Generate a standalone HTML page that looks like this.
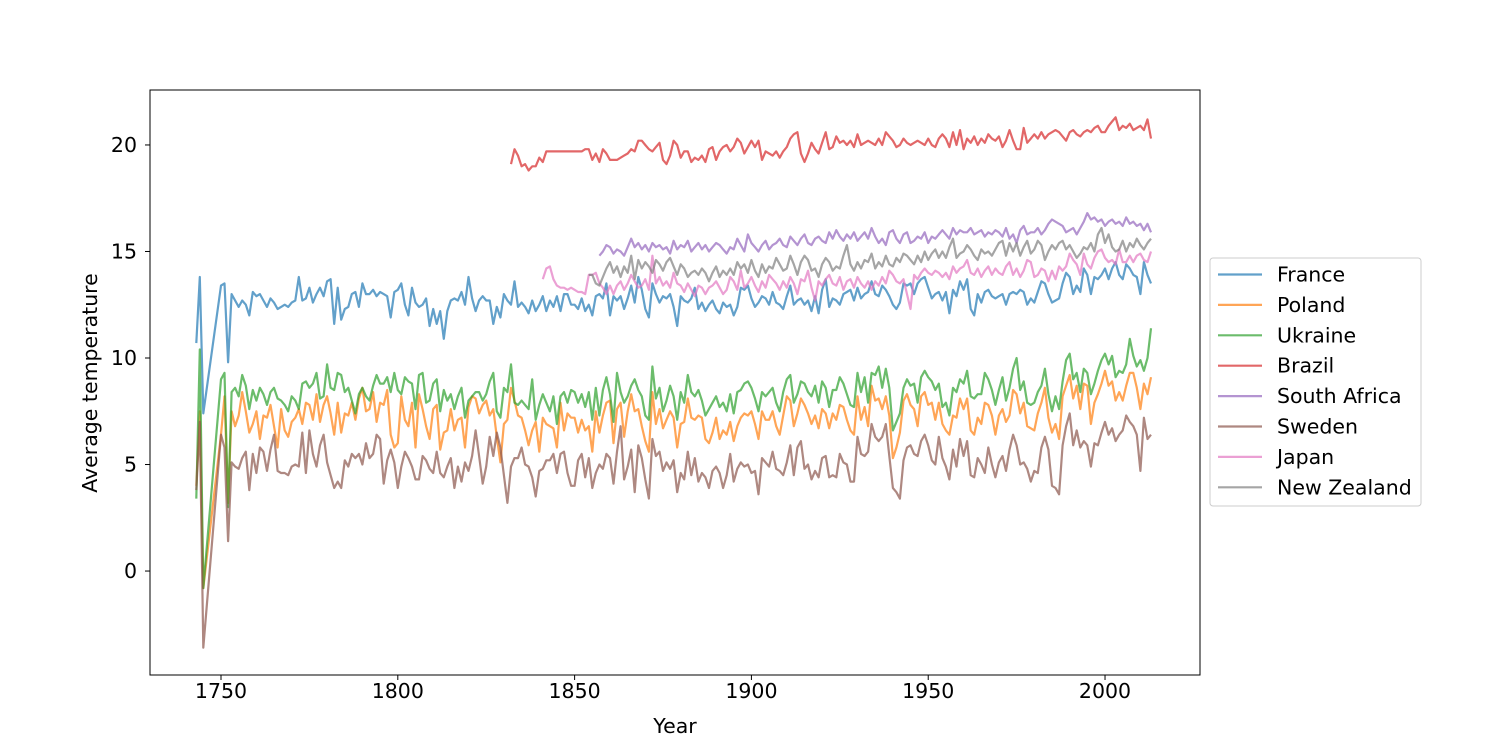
<!DOCTYPE html>
<html><head><meta charset="utf-8"><style>
body{margin:0;background:#fff}
svg text{font-family:"DejaVu Sans","Liberation Sans",sans-serif;font-size:20.5px;fill:#000}
</style></head><body>
<svg id="chart" width="1500" height="750" xmlns="http://www.w3.org/2000/svg">
<rect width="1500" height="750" fill="#fff"/>
<g id="plot"></g>
<rect x="150" y="90" width="1050" height="585" fill="none" stroke="#000" stroke-width="1"/>
<g id="xt"></g>
<g id="yt"></g>
<text x="675" y="733" text-anchor="middle">Year</text>
<text transform="translate(97,383) rotate(-90)" text-anchor="middle">Average temperature</text>
<g id="legend"></g>
</svg>
<script>
const seriesNames=["France","Poland","Ukraine","Brazil","South Africa","Sweden","Japan","New Zealand"];
const xTicks=[1750,1800,1850,1900,1950,2000];
const yTicks=[0,5,10,15,20];
const franceVals=[10.7,13.8,7.4,
13.4,13.5,9.8,13.0,12.7,12.4,12.7,12.5,12.0,13.1,12.9,13.0,12.7,12.4,12.8,12.6,12.3,12.4,12.5,12.4,
12.6,12.7,13.8,12.7,12.8,13.3,12.6,13.0,13.3,12.9,13.6,13.7,11.6,13.3,11.8,12.3,12.4,13.0,13.1,12.4,
13.5,13.0,13.0,13.2,12.9,13.1,13.0,12.9,11.9,13.1,13.2,13.5,12.5,12.0,13.3,12.6,12.4,12.5,12.8,11.5,
12.3,11.6,12.2,10.9,12.2,12.7,12.8,12.7,13.1,12.5,13.8,12.8,12.2,12.7,12.9,12.7,12.7,11.6,12.4,11.9,
13.0,12.7,12.5,13.6,12.4,12.6,12.4,12.1,12.7,12.2,12.5,12.9,12.2,12.7,12.4,12.9,12.2,13.0,13.0,12.5,
12.5,12.3,12.8,12.2,12.5,12.0,12.9,13.0,12.8,13.5,12.0,12.9,12.7,12.9,12.3,12.8,13.4,12.6,13.8,13.2,
12.3,11.9,13.5,13.0,12.6,12.9,12.8,13.0,12.4,11.5,12.9,12.7,12.6,12.8,13.3,12.3,12.6,12.2,12.5,12.7,
12.3,12.1,12.6,12.4,12.5,12.0,12.4,13.3,13.2,13.4,12.8,12.4,12.6,12.9,12.8,12.5,13.1,12.6,12.5,12.3,
12.9,13.4,12.5,12.7,12.8,12.5,12.7,12.2,12.9,12.1,13.2,13.7,12.4,12.8,12.7,12.5,13.0,13.1,13.2,12.7,
13.3,12.8,13.0,13.1,13.6,13.0,12.9,13.4,13.2,12.9,12.5,12.3,12.6,13.5,13.4,13.5,13.0,13.5,13.7,13.8,
13.3,12.8,13.0,13.1,12.7,13.1,12.1,13.2,12.9,13.6,13.2,13.7,12.3,12.0,13.0,12.6,13.1,13.2,12.9,12.8,
12.9,13.0,12.5,13.0,13.1,13.0,13.2,13.1,12.5,12.8,12.6,13.1,13.6,13.5,13.0,12.6,12.7,12.8,13.5,14.0,
13.8,13.0,13.4,13.1,14.2,13.9,13.0,13.8,13.7,13.9,14.2,13.7,14.2,14.5,13.9,13.7,14.4,14.2,13.9,13.8,
13.0,14.5,13.9,13.5];
const polandVals=[4.0,7.5,-0.8,
6.4,8.2,3.2,7.5,6.8,7.3,8.4,7.5,6.5,6.9,7.5,6.2,7.3,7.2,7.8,6.8,5.8,7.6,6.6,6.3,
7.0,7.2,7.6,6.9,7.9,7.8,7.1,8.3,7.0,7.8,8.2,7.4,6.4,7.9,6.5,7.4,7.3,7.9,7.1,8.1,
8.6,7.5,7.6,8.4,7.0,7.9,7.8,8.5,6.4,5.8,6.0,8.2,7.1,6.8,7.9,5.8,8.3,7.6,6.8,6.2,
7.6,7.8,5.7,6.5,6.6,7.6,6.6,7.1,7.2,5.8,7.7,8.2,8.1,7.4,7.8,8.0,7.3,7.6,6.3,5.1,
6.9,7.1,8.6,8.0,7.3,7.2,6.6,5.9,6.6,7.0,5.6,7.2,6.9,6.8,6.7,5.8,7.9,6.6,7.4,7.2,
7.2,6.5,7.1,6.6,6.8,5.6,7.5,6.5,7.3,7.9,8.0,6.0,7.6,7.9,6.3,7.5,8.3,7.5,7.6,6.8,
6.1,5.6,8.4,6.9,7.6,6.7,7.1,7.5,7.2,5.8,6.9,7.0,8.1,7.2,7.1,7.3,7.2,6.2,6.0,6.5,
7.2,6.2,6.6,6.4,7.0,6.1,6.8,7.2,7.4,7.3,7.5,6.9,6.2,7.5,7.1,7.1,7.5,6.8,6.4,7.3,
8.2,8.0,6.8,7.4,8.1,7.8,7.4,6.9,7.3,6.7,7.6,7.4,6.7,7.4,7.1,7.8,7.7,7.1,6.6,6.4,
8.2,7.1,7.7,6.8,8.7,8.0,8.1,7.6,8.2,7.3,5.3,5.8,6.5,8.0,8.3,7.8,7.6,6.8,8.2,8.4,
7.8,7.9,7.1,7.9,6.9,6.6,6.4,7.3,7.2,8.1,7.6,8.1,6.6,6.4,7.2,6.9,7.9,7.8,7.3,6.4,
7.3,7.6,7.0,7.3,8.5,8.3,7.4,7.9,6.8,6.7,6.6,7.4,7.9,8.6,7.2,6.5,6.9,6.2,8.2,8.7,
9.2,8.1,8.7,7.6,8.8,8.7,6.9,7.9,8.3,8.8,9.4,8.7,8.9,8.0,8.4,8.0,8.7,9.3,9.3,8.6,
7.6,8.8,8.3,9.1];
const ukraineVals=[3.4,10.4,-0.8,
9.0,9.3,3.0,8.4,8.6,8.2,9.2,8.7,7.6,8.5,8.0,8.6,8.3,7.8,8.4,8.6,8.1,8.0,7.8,7.5,
8.2,8.0,7.6,8.8,8.9,8.6,8.8,9.3,8.1,8.2,9.7,8.6,8.5,9.3,9.2,8.4,8.6,8.0,7.4,8.3,
8.6,8.2,8.0,8.7,9.2,8.8,8.8,9.1,8.4,9.3,8.5,8.3,9.1,8.9,8.8,7.6,9.2,9.3,7.9,8.0,
8.8,9.0,7.5,8.5,8.0,8.3,7.6,8.2,8.6,7.2,8.0,8.2,8.4,8.4,8.0,8.3,8.9,9.3,7.5,7.2,
8.6,8.4,9.7,7.9,7.8,8.0,7.8,7.6,9.0,7.1,7.8,8.3,7.9,7.5,8.2,6.9,8.2,8.4,7.9,8.5,
8.4,7.9,8.3,7.7,8.4,7.1,8.6,7.3,8.5,9.1,8.3,7.0,9.3,8.4,7.9,8.2,8.7,9.0,8.5,8.2,
7.3,7.1,9.6,8.1,8.6,7.5,8.0,8.7,8.2,7.1,8.4,7.9,9.2,8.4,8.2,8.5,8.0,7.3,7.6,7.9,
8.2,7.7,7.9,7.5,8.3,7.4,8.4,8.5,8.8,8.9,8.6,8.1,7.5,8.4,8.2,8.4,8.6,7.9,7.5,8.4,
9.0,9.2,7.9,8.3,8.9,8.8,8.4,8.2,8.7,7.9,8.9,8.6,7.7,8.5,8.5,9.1,8.8,8.3,7.8,7.7,
9.3,8.4,9.1,7.9,9.3,9.2,9.6,8.6,9.5,8.6,6.6,7.0,7.4,8.6,9.0,8.7,8.8,7.9,9.1,9.4,
9.1,8.9,8.5,8.8,7.7,7.9,7.3,8.6,8.4,9.0,8.8,9.4,8.2,8.1,8.3,8.3,9.3,9.0,8.5,7.8,
8.5,9.1,8.0,8.6,9.5,10.0,8.5,8.9,7.9,7.8,7.9,8.4,8.7,9.5,8.3,7.5,8.2,7.6,8.9,9.9,
10.2,9.0,9.3,8.4,9.5,9.3,8.3,8.8,9.4,9.9,10.2,9.7,10.1,9.1,9.4,9.3,9.7,10.9,10.1,9.6,
9.9,9.4,10.0,11.4];
const brazilVals=[19.1,19.8,19.5,19.0,19.1,18.8,19.0,19.0,19.4,19.2,
19.7,19.7,19.7,19.7,19.7,19.7,19.7,19.7,19.7,19.7,
19.7,19.8,19.8,19.3,19.6,19.2,19.8,19.6,19.3,19.3,
19.3,19.4,19.5,19.6,19.8,19.7,20.2,20.2,20.0,19.8,
19.7,19.9,20.1,19.3,19.1,19.5,20.2,20.0,19.4,19.7,
19.7,19.2,19.4,19.3,19.5,19.2,19.8,19.9,19.3,19.7,
19.9,20.0,19.7,19.9,20.3,20.1,19.6,19.9,20.2,19.9,
20.2,19.3,19.7,19.6,19.5,19.7,19.4,19.7,19.9,20.3,
20.5,20.6,19.6,19.2,19.6,20.1,19.8,19.6,20.1,20.6,
19.8,19.9,20.4,20.1,20.2,20.0,20.2,19.9,20.5,20.0,
20.1,20.2,20.1,20.0,20.3,20.0,20.6,20.4,20.2,19.9,
20.0,20.3,20.1,20.0,20.1,20.2,20.1,20.0,20.3,20.0,
19.9,20.3,20.5,20.3,19.9,20.6,20.0,20.7,19.8,20.3,
20.1,20.4,20.0,20.3,20.1,20.5,20.3,20.2,20.4,19.9,
20.2,20.7,20.2,19.8,19.8,20.8,20.1,20.3,20.5,20.3,
20.6,20.3,20.5,20.6,20.7,20.6,20.4,20.2,20.6,20.7,
20.5,20.4,20.6,20.7,20.6,20.8,20.9,20.6,20.6,20.9,
21.1,21.3,20.7,20.9,20.8,21.0,20.7,20.8,20.9,20.7,21.2,20.3];
const southAfricaVals=[14.8,15.0,15.3,15.2,14.9,15.1,15.0,14.8,15.2,15.6,
15.2,15.4,15.1,15.3,15.0,15.4,15.2,15.3,15.1,15.2,
14.9,15.5,15.1,15.3,15.2,15.5,15.0,15.2,15.4,15.1,
15.3,15.0,15.2,15.4,15.3,15.1,14.9,15.2,15.1,15.6,
15.3,15.0,15.8,15.4,15.2,15.0,15.3,15.5,15.1,15.3,
15.4,15.6,15.3,15.2,15.7,15.5,15.3,15.6,15.8,15.4,
15.3,15.6,15.7,15.5,15.4,15.9,15.6,16.0,15.7,15.5,
15.8,15.6,15.9,15.5,15.7,15.9,15.6,16.1,15.7,15.4,
15.6,15.3,15.9,16.0,15.6,15.4,15.8,15.9,15.4,15.5,
15.7,15.6,15.9,15.4,15.7,15.6,15.8,16.0,15.8,15.6,
16.1,15.8,16.0,15.9,15.9,16.1,15.8,15.9,16.0,15.7,
15.9,15.8,16.0,15.9,15.7,16.1,15.6,15.8,15.4,16.0,
16.2,15.8,15.9,15.9,16.1,15.8,16.0,16.3,16.5,16.4,
16.3,16.2,15.9,16.0,16.1,15.8,16.1,16.4,16.8,16.5,
16.6,16.4,16.5,16.2,16.4,16.5,16.3,16.4,16.2,16.6,
16.3,16.4,16.2,16.3,16.0,16.3,15.9];
const swedenVals=[3.8,7.0,-3.6,
6.4,5.8,1.4,5.1,4.9,4.8,5.3,5.6,3.8,5.5,4.6,5.8,5.6,4.7,5.7,6.4,4.7,4.6,4.6,4.5,
4.9,5.0,4.9,6.5,4.6,6.6,5.5,4.9,5.9,6.4,5.1,4.5,3.9,4.2,3.9,5.2,4.9,5.5,5.3,5.5,
5.0,6.0,5.3,5.5,6.4,6.2,4.1,5.2,5.7,5.1,3.9,4.9,5.6,5.3,4.9,4.3,4.3,5.4,5.2,4.8,
4.6,5.6,4.6,4.4,4.9,5.3,3.9,4.9,4.2,5.1,4.7,5.4,6.6,5.4,4.1,4.9,6.3,5.4,6.5,5.8,
4.5,3.2,4.9,5.3,5.3,5.8,5.0,4.9,4.4,3.5,4.7,4.8,5.2,5.2,5.5,4.6,5.5,5.6,4.6,4.0,
4.0,5.2,5.5,4.4,5.3,3.9,4.6,5.0,4.8,5.5,5.3,4.1,5.6,6.8,4.3,4.9,5.7,3.7,5.9,5.3,
4.3,3.4,6.2,5.4,5.6,4.7,5.1,4.8,5.2,3.7,4.6,4.3,5.6,4.5,5.3,4.2,4.6,4.4,3.9,4.7,
4.9,4.6,3.9,4.5,5.5,4.2,4.8,5.1,4.9,5.0,4.6,4.7,3.6,5.3,5.1,4.9,5.6,4.8,4.7,4.5,
5.1,5.9,4.5,5.8,6.1,4.8,5.0,4.3,4.7,4.4,5.3,5.4,4.4,4.5,4.4,5.5,5.1,5.0,4.2,4.2,
6.3,5.5,5.4,5.6,6.9,6.3,6.1,6.3,6.9,5.4,3.9,3.7,3.4,5.2,5.8,5.9,5.5,5.4,6.1,6.4,
5.9,5.2,5.0,6.3,5.3,4.9,4.3,5.7,4.9,6.2,5.4,6.1,4.5,4.4,5.3,5.0,4.6,5.8,5.0,4.4,
5.1,5.4,4.7,5.7,6.4,5.9,5.0,5.1,4.8,4.2,4.7,4.6,5.8,6.3,5.7,4.0,3.9,3.6,5.9,6.8,
7.4,5.9,6.6,5.8,6.1,5.9,4.9,6.0,5.9,6.5,7.0,6.4,6.7,6.1,6.4,6.6,7.3,7.0,6.8,6.4,
4.7,7.2,6.2,6.4];
const japanVals=[13.7,14.2,14.3,13.7,13.4,13.3,13.3,13.2,13.3,13.2,
13.1,13.1,13.0,13.9,13.9,14.0,13.5,13.3,13.0,13.4,
13.0,13.4,13.6,13.2,13.5,13.9,13.6,13.3,13.4,13.7,
13.2,14.8,13.5,13.8,13.4,13.6,13.3,14.0,13.5,13.4,
13.1,13.5,13.2,12.9,13.4,13.3,13.0,13.3,13.4,13.6,
13.3,13.0,13.2,13.8,13.6,13.2,14.1,13.3,13.5,13.8,
13.4,13.1,13.6,13.3,13.9,13.7,13.5,13.2,13.6,13.3,
13.8,13.5,13.0,13.7,13.6,14.1,13.3,12.7,13.6,13.4,
13.7,13.9,13.5,13.4,13.8,13.2,13.6,13.7,13.3,13.8,
13.5,13.3,13.6,13.2,13.6,13.4,13.8,13.5,14.1,13.9,
13.6,13.5,13.7,13.0,12.3,13.9,13.7,14.0,14.2,14.0,
13.9,14.1,14.0,13.8,14.0,13.7,14.3,14.0,14.2,14.3,
14.6,14.0,13.9,14.2,13.8,14.1,14.3,13.9,14.2,14.0,
13.9,14.3,14.5,13.9,14.2,13.8,14.1,14.6,14.5,13.8,
13.9,14.2,14.1,13.6,14.1,13.7,14.3,14.1,14.3,14.9,
14.6,14.4,13.9,14.9,14.4,14.2,14.7,15.0,15.1,14.7,
14.5,14.6,14.4,15.1,14.5,14.5,14.8,14.5,14.8,14.9,
14.6,14.5,15.0];
const newZealandVals=[13.9,13.9,13.5,13.4,13.8,14.2,14.5,14.0,14.3,13.8,
14.3,14.0,14.8,13.7,14.6,14.2,14.5,14.3,14.0,14.6,
14.4,14.1,14.5,14.7,14.3,13.9,14.4,14.2,13.8,14.0,
14.1,13.9,14.2,14.0,13.6,14.0,14.3,13.8,14.1,13.9,
14.2,13.9,14.5,14.2,14.4,14.0,14.6,14.1,13.8,14.4,
14.0,14.3,14.2,14.7,14.4,14.1,14.2,14.8,14.4,13.9,
14.5,14.8,14.6,14.1,14.2,13.8,14.4,14.7,14.5,14.1,
14.3,14.2,14.8,15.3,14.4,14.1,14.5,14.2,14.6,14.5,
14.9,14.2,14.5,14.3,14.8,14.4,14.3,14.7,14.5,14.9,
14.8,14.6,14.4,14.8,14.5,15.0,14.6,14.9,15.1,14.7,
15.0,14.7,15.2,15.6,14.7,14.9,15.0,15.3,15.1,14.8,
14.6,15.1,14.9,15.0,14.8,15.1,15.4,15.5,14.8,15.4,
15.0,15.4,14.8,15.2,15.5,14.9,15.1,15.5,15.3,14.6,
15.0,15.3,15.1,15.4,15.5,15.1,15.3,15.0,14.7,14.9,
15.2,15.1,15.4,15.0,15.8,16.1,15.4,15.8,15.2,15.0,
15.1,15.5,15.0,15.4,15.2,15.6,15.3,15.1,15.4,15.6];
const seriesStart=[1750,1750,1750,1832,1857,1750,1841,1854];
const colors=["#1f77b4","#ff7f0e","#2ca02c","#d62728","#9467bd","#8c564b","#e377c2","#7f7f7f"];
const allVals=[franceVals,polandVals,ukraineVals,brazilVals,southAfricaVals,swedenVals,japanVals,newZealandVals];
const earlyYears=[1743,1744,1745];

const X0=150,X1=1200,Y0=90,Y1=675,xmin=1729.92,xmax=2026.86,ymin=-4.88,ymax=22.58;
const xs=v=>X0+(v-xmin)/(xmax-xmin)*(X1-X0);
const ys=v=>Y1-(v-ymin)/(ymax-ymin)*(Y1-Y0);
const NS="http://www.w3.org/2000/svg";
function mk(tag,attrs,parent){const e=document.createElementNS(NS,tag);for(const k in attrs)e.setAttribute(k,attrs[k]);parent.appendChild(e);return e;}

const plot=document.getElementById('plot');
allVals.forEach((vals,i)=>{
  const early=seriesStart[i]===1750;
  const pts=vals.map((v,j)=>{
    let yr;
    if(early){yr=j<3?earlyYears[j]:1750+(j-3);}else{yr=seriesStart[i]+j;}
    return xs(yr).toFixed(1)+','+ys(v).toFixed(1);
  });
  const pl=mk('polyline',{points:pts.join(' '),fill:'none',stroke:colors[i],'stroke-width':2.2,'stroke-opacity':0.7,'stroke-linejoin':'round'},plot);
  
  
});

const xt=document.getElementById('xt');
xTicks.forEach(t=>{
  const x=xs(t);
  const l=mk('line',{x1:x,x2:x,y1:675,y2:680,stroke:'#000'},xt);
  
  
  const tx=mk('text',{x:x,y:698,'text-anchor':'middle'},xt);
  tx.textContent=t;
  
  
});
const yt=document.getElementById('yt');
yTicks.forEach(t=>{
  const y=ys(t);
  const l=mk('line',{x1:145,x2:150,y1:y,y2:y,stroke:'#000'},yt);
  
  
  const tx=mk('text',{x:137,y:y+7,'text-anchor':'end'},yt);
  tx.textContent=t;
  
  
});

const lg=document.getElementById('legend');
const box=mk('rect',{x:1210,y:258,width:211,height:248,rx:3,fill:'#fff',stroke:'#ccc'},lg);


seriesNames.forEach((n,i)=>{
  const y=274.5+i*30.4;
  const g=mk('g',{},lg);
  
  
  mk('line',{x1:1218,x2:1262,y1:y,y2:y,stroke:colors[i],'stroke-width':2.2,'stroke-opacity':0.7},g);
  const tx=mk('text',{x:1277,y:y+7},g);
  tx.textContent=n;
});
</script>
</body></html>
